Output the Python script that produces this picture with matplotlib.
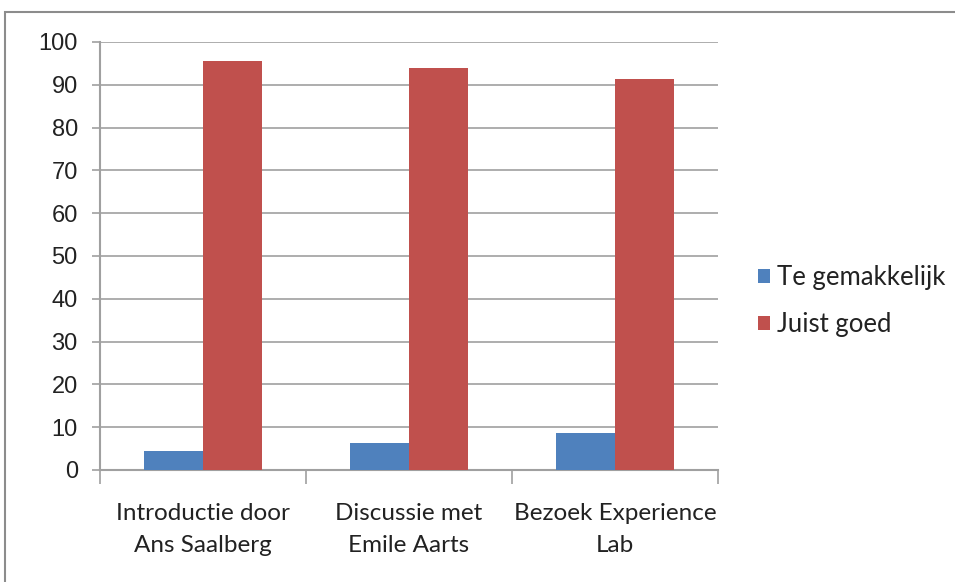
import matplotlib.pyplot as plt
import numpy as np
from matplotlib.patches import Rectangle

categories = ["Introductie door\nAns Saalberg", "Discussie met\nEmile Aarts", "Bezoek Experience\nLab"]
te_gemakkelijk = [4.4, 6.3, 8.6]
juist_goed = [95.6, 93.9, 91.4]
series_names = ["Te gemakkelijk", "Juist goed"]

blue = "#4f81bd"
red = "#c0504d"
grid_grey = "#a0a0a0"

plt.rcParams['font.family'] = ['Lato', 'DejaVu Sans']

fig = plt.figure(figsize=(9.55, 5.82), dpi=100)
fig.patches.append(Rectangle((5 / 955, -0.1), 1.2, (582 - 12) / 582 + 0.1, transform=fig.transFigure,
                             fill=False, edgecolor="#8c8c8c", linewidth=1.5))

ax = fig.add_axes([100 / 955, (582 - 470) / 582, 618 / 955, 428 / 582])

x = np.arange(len(categories))
w = 0.285
ax.bar(x - w / 2, te_gemakkelijk, w, color=blue, label=series_names[0], zorder=3)
ax.bar(x + w / 2, juist_goed, w, color=red, label=series_names[1], zorder=3)

ax.set_xlim(-0.5, len(categories) - 0.5)
ax.set_ylim(0, 100)
ax.set_yticks(np.arange(0, 101, 10))
ax.yaxis.grid(True, color=grid_grey, linewidth=1.2, zorder=0)
ax.set_axisbelow(True)

ax.set_xticks(x)
ax.set_xticklabels(categories, fontsize=17.5, color="#222222", linespacing=1.6)
ax.set_xticks(np.arange(-0.5, len(categories)), minor=True)
ax.tick_params(axis="x", which="major", length=0, pad=24)
ax.tick_params(axis="x", which="minor", length=10, width=1.2, color=grid_grey)
ax.tick_params(axis="y", length=6, width=1.2, color=grid_grey, labelsize=17, pad=10, labelcolor="#222222")
for lab in ax.get_yticklabels():
    lab.set_family(['Liberation Sans', 'DejaVu Sans'])

for s in ["top", "right"]:
    ax.spines[s].set_visible(False)
for s in ["left", "bottom"]:
    ax.spines[s].set_color(grid_grey)
    ax.spines[s].set_linewidth(1.5)

fig.legend(loc="center left", bbox_to_anchor=(735 / 955, 1 - 301 / 582), frameon=False,
           fontsize=18.5, handlelength=0.47, handleheight=0.47, handletextpad=0.25, labelspacing=0.87,
           labelcolor="#222222")

fig.savefig("out.png", dpi=100)
